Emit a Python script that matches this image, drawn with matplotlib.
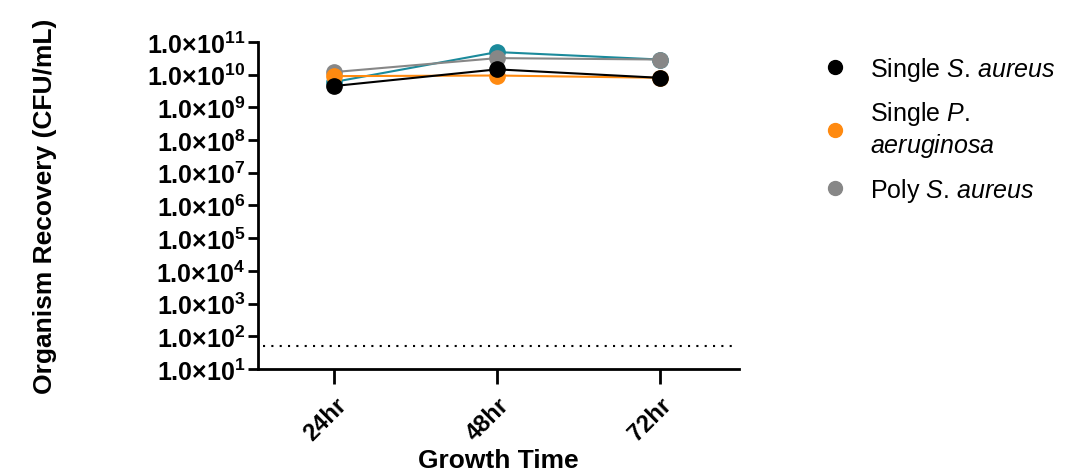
import matplotlib
matplotlib.use("Agg")
import matplotlib.pyplot as plt
from matplotlib.lines import Line2D
import numpy as np

plt.rcParams['font.family'] = ['Liberation Sans', 'DejaVu Sans']
plt.rcParams['mathtext.fontset'] = 'custom'
plt.rcParams['mathtext.rm'] = 'Liberation Sans'
plt.rcParams['mathtext.it'] = 'Liberation Sans:italic'
plt.rcParams['mathtext.bf'] = 'Liberation Sans:bold'

# Data
times = ["24hr", "48hr", "72hr"]
single_sa = [4.5e9, 1.45e10, 8.0e9]
single_pa = [9.0e9, 9.4e9, 8.0e9]
poly_sa = [1.2e10, 3.2e10, 2.9e10]
poly_pa = [6.0e9, 4.9e10, 2.9e10]
detection_limit = 50
ytick_exps = list(range(1, 12))

fig = plt.figure(figsize=(10.72, 4.77), dpi=100)
ax = fig.add_axes([0.2407, 0.2243, 0.449, 0.6857])

x = np.arange(len(times))
ms = 11
ax.plot(x, poly_pa, '-o', color='#1b8a9b', ms=ms, lw=1.5, zorder=3)
ax.plot(x, poly_sa, '-o', color='#878787', ms=ms, lw=1.5, zorder=4)
ax.plot(x, single_pa, '-o', color='#ff8a10', ms=ms, lw=1.5, zorder=5)
ax.plot(x, single_sa, '-o', color='black', ms=ms, lw=1.5, zorder=6)

ax.axhline(detection_limit, xmin=0.01, xmax=0.99, color='black', ls=(0, (1, 3)), lw=1.5)

ax.set_yscale('log')
ax.set_ylim(1e1, 1e11)
ax.set_xlim(-0.47, 2.49)
ax.set_yticks([10.0 ** e for e in ytick_exps])
ax.set_yticklabels([r'1.0×10$^{\mathbf{%d}}$' % e for e in ytick_exps],
                   fontsize=18, fontweight='bold')
ax.minorticks_off()
ax.set_xticks(x)
ax.set_xticklabels(times, rotation=45, ha='right', rotation_mode='anchor',
                   fontsize=17, fontweight='bold')

for s in ['top', 'right']:
    ax.spines[s].set_visible(False)
for s in ['left', 'bottom']:
    ax.spines[s].set_linewidth(2)
ax.tick_params(axis='y', width=2, length=7, color='black', pad=2)
ax.tick_params(axis='x', width=2, length=11, pad=6)

ax.set_ylabel('Organism Recovery (CFU/mL)', fontsize=19, fontweight='bold', labelpad=65)
ax.set_xlabel('Growth Time', fontsize=19, fontweight='bold', labelpad=3)

handles = [
    Line2D([], [], marker='o', ls='', color='black', ms=10),
    Line2D([], [], marker='o', ls='', color='#ff8a10', ms=10),
    Line2D([], [], marker='o', ls='', color='#878787', ms=10),
]
labels = [
    r'Single $\mathit{S.\,aureus}$',
    'Single $\\mathit{P.}$\n$\\mathit{aeruginosa}$',
    r'Poly $\mathit{S.\,aureus}$',
]
fig.legend(handles, labels, loc='upper left', bbox_to_anchor=(0.746, 0.93),
           frameon=False, fontsize=18, handletextpad=0.9, labelspacing=0.65,
           handlelength=1.0)

fig.savefig('out.png', dpi=100)
